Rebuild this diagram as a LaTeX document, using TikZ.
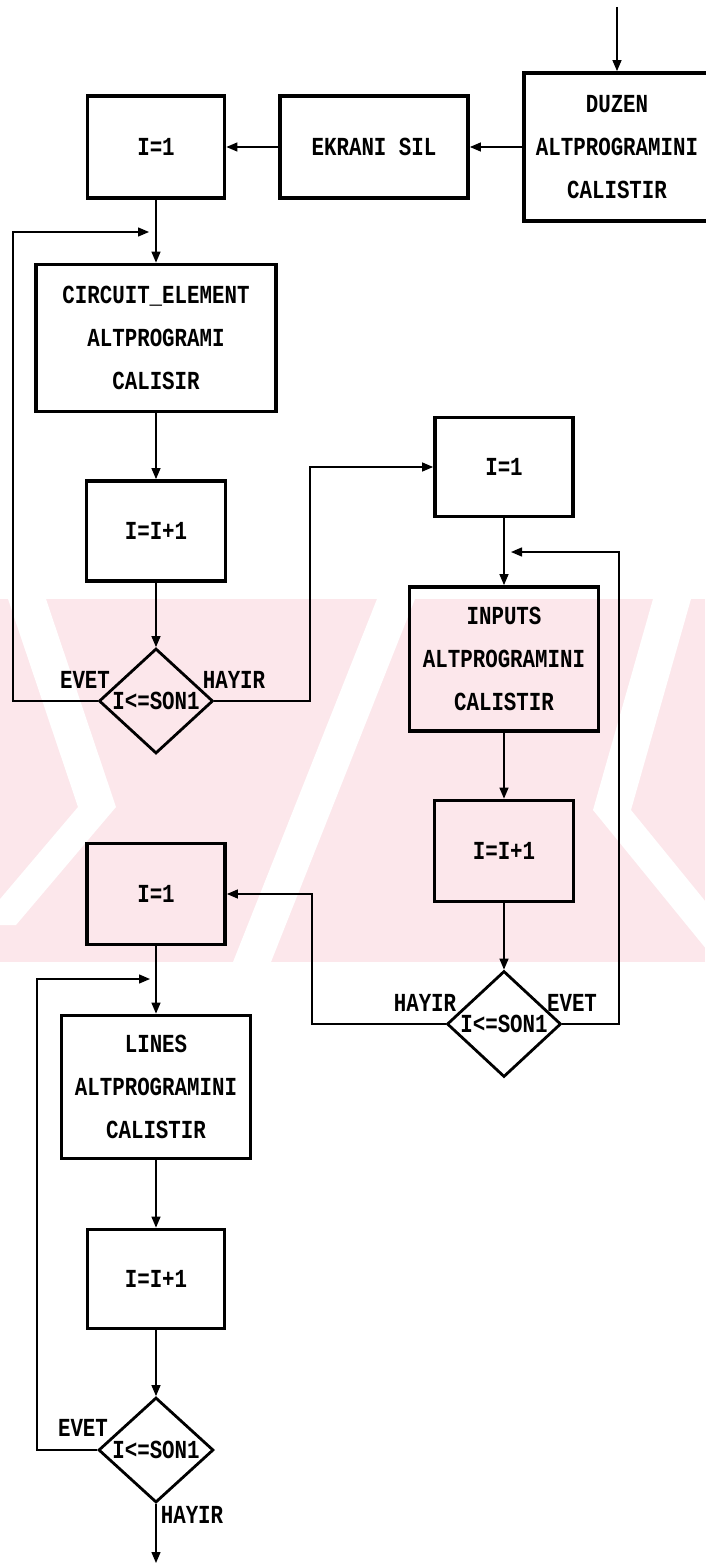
\documentclass[tikz,border=0pt]{standalone}
\usepackage{fontspec}
\usetikzlibrary{shapes.geometric,arrows.meta}
\newfontfamily\dotfont[FakeStretch=0.8]{Liberation Mono}
\newcommand{\yazi}{\dotfont\bfseries\fontsize{26}{43}\selectfont}
\definecolor{filigran}{RGB}{252,231,235}
\tikzset{
  kutu/.style={draw,line width=3.8pt,inner sep=0pt,align=center,font=\yazi},
  karar/.style={draw,diamond,line width=2.8pt,inner sep=0pt,font=\yazi},
  ok/.style={-{Triangle[length=11pt,width=9pt]},line width=1.4pt},
  etiket/.style={inner sep=0pt,font=\yazi}
}
\begin{document}
\begin{tikzpicture}[x=1pt,y=-1pt]
    \useasboundingbox (0,0) rectangle (705,1565);

    % Filigran: pembe bant ve beyaz capraz seritler
    \begin{scope}
      \clip (0,599) rectangle (705,962);
      \fill[filigran] (0,599) rectangle (705,962);
      \fill[white] (8,599) -- (46,599) -- (116,807) -- (78,807) -- cycle;
      \fill[white] (78,807) -- (116,807) -- (16,925) -- (-22,925) -- cycle;
      \fill[white] (377,599) -- (415,599) -- (271,962) -- (233,962) -- cycle;
      \fill[white] (653,599) -- (691,599) -- (631,810) -- (593,810) -- cycle;
      \fill[white] (593,810) -- (631,810) -- (745,950) -- (707,950) -- cycle;
    \end{scope}

    % Ust sira
    \node[kutu,minimum width=186pt,minimum height=148pt] (duzen) at (617,147) {DUZEN\\ALTPROGRAMINI\\CALISTIR};
    \node[kutu,minimum width=188pt,minimum height=102pt] (ekran) at (374,147) {EKRANI SIL};
    \node[kutu,minimum width=137pt,minimum height=102pt] (ia) at (156,147) {I=1};

    % Birinci dongu
    \node[kutu,minimum width=240pt,minimum height=147pt] (circ) at (156,338) {CIRCUIT\_ELEMENT\\ALTPROGRAMI\\CALISIR};
    \node[kutu,minimum width=139pt,minimum height=100pt] (inca) at (156,531) {I=I+1};
    \node[karar,minimum width=114pt,minimum height=104pt] (dia1) at (156,701) {I<=SON1};

    % Ikinci dongu
    \node[kutu,minimum width=138pt,minimum height=99pt] (ib) at (504,467) {I=1};
    \node[kutu,minimum width=189pt,minimum height=144pt] (inp) at (504,659) {INPUTS\\ALTPROGRAMINI\\CALISTIR};
    \node[kutu,minimum width=139pt,minimum height=101pt] (incb) at (504,851) {I=I+1};
    \node[karar,minimum width=114pt,minimum height=106pt] (dia2) at (504,1024) {I<=SON1};

    % Ucuncu dongu
    \node[kutu,minimum width=138pt,minimum height=101pt] (ic) at (156,894) {I=1};
    \node[kutu,minimum width=189pt,minimum height=143pt] (lines) at (156,1087) {LINES\\ALTPROGRAMINI\\CALISTIR};
    \node[kutu,minimum width=137pt,minimum height=99pt] (incc) at (156,1279) {I=I+1};
    \node[karar,minimum width=115pt,minimum height=102pt] (dia3) at (156,1450) {I<=SON1};

    % Serbest uclar ve koseler
    \coordinate (giris) at (617,7);
    \coordinate (cikis) at (156,1563);
    \coordinate (sol1) at (13,232);
    \coordinate (dongu1) at (149,232);
    \coordinate (sag1) at (310,467);
    \coordinate (sag2) at (619,552);
    \coordinate (dongu2) at (511,552);
    \coordinate (sol2) at (312,894);
    \coordinate (sol3) at (37,979);
    \coordinate (dongu3) at (150,979);

    % Baglantilar
    \draw[ok] (giris) -- (duzen.north);
    \draw[ok] (duzen.west) -- (ekran.east);
    \draw[ok] (ekran.west) -- (ia.east);
    \draw[ok] (ia.south) -- (circ.north);
    \draw[ok] (circ.south) -- (inca.north);
    \draw[ok] (inca.south) -- (dia1.north);
    \draw[ok] (dia1.west) -| (sol1) -- (dongu1);
    \draw[ok] (dia1.east) -| (sag1) -- (ib.west);
    \draw[ok] (ib.south) -- (inp.north);
    \draw[ok] (inp.south) -- (incb.north);
    \draw[ok] (incb.south) -- (dia2.north);
    \draw[ok] (dia2.east) -| (sag2) -- (dongu2);
    \draw[ok] (dia2.west) -| (sol2) -- (ic.east);
    \draw[ok] (ic.south) -- (lines.north);
    \draw[ok] (lines.south) -- (incc.north);
    \draw[ok] (incc.south) -- (dia3.north);
    \draw[ok] (dia3.west) -| (sol3) -- (dongu3);
    \draw[ok] (dia3.south) -- (cikis);

    % Karar etiketleri
    \node[etiket] (evet1) at (85,680) {EVET};
    \node[etiket] (hayir1) at (234,680) {HAYIR};
    \node[etiket] (hayir2) at (425,1003) {HAYIR};
    \node[etiket] (evet2) at (572,1003) {EVET};
    \node[etiket] (evet3) at (83,1428) {EVET};
    \node[etiket] (hayir3) at (192,1515) {HAYIR};
\end{tikzpicture}
\end{document}
